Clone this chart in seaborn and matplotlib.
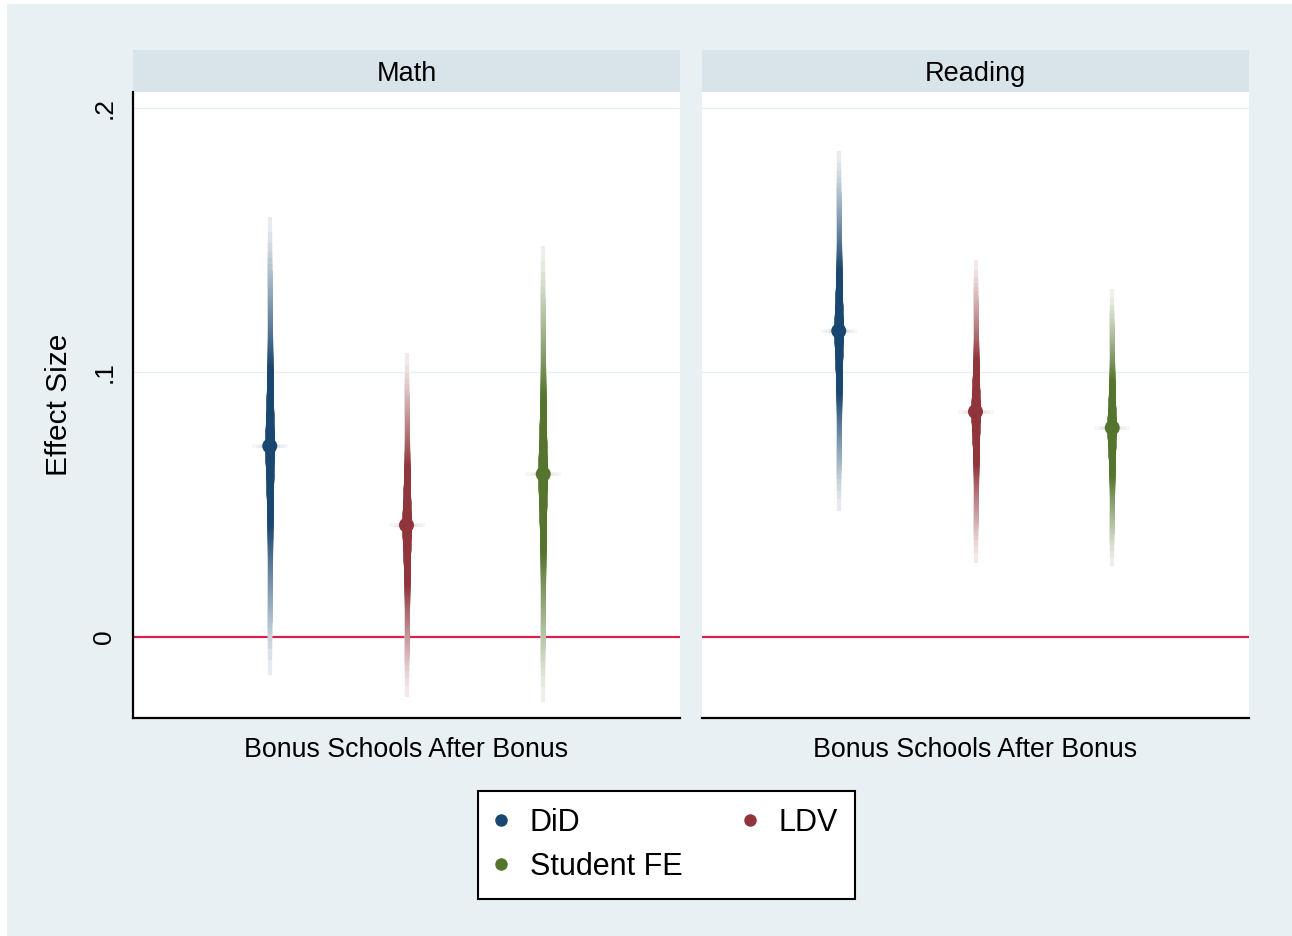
import numpy as np
import pandas as pd
import seaborn as sns
import matplotlib
matplotlib.use("Agg")
import matplotlib.pyplot as plt
from matplotlib.colors import to_rgb
from matplotlib.patches import Rectangle
from matplotlib.lines import Line2D
from statistics import NormalDist

# ---- data -------------------------------------------------------------
subjects = ["Math", "Reading"]
models = ["DiD", "LDV", "Student FE"]
category = "Bonus Schools After Bonus"

# point estimates per subject (order: DiD, LDV, Student FE)
est_math = [0.0722, 0.0423, 0.0616]
est_reading = [0.1157, 0.0852, 0.0791]

# outermost (99%) confidence bounds
lo_math = [-0.0143, -0.0227, -0.0246]
hi_math = [0.1587, 0.1073, 0.1478]
lo_reading = [0.0476, 0.0280, 0.0268]
hi_reading = [0.1838, 0.1425, 0.1315]

ytick_vals = [0, 0.1, 0.2]
ytick_labels = ["0", ".1", ".2"]

# ---- styling ----------------------------------------------------------
colors = {"DiD": "#1A476F", "LDV": "#90353B", "Student FE": "#55752F"}
offsets = {"DiD": -0.25, "LDV": 0.0, "Student FE": 0.25}
bg = "#E8F0F3"
strip_col = "#D9E4EA"
zero_col = "#DC1E4B"

rows = []
for subj, est, lo, hi in [("Math", est_math, lo_math, hi_math),
                          ("Reading", est_reading, lo_reading, hi_reading)]:
    for m, e, l, h in zip(models, est, lo, hi):
        rows.append(dict(subject=subj, model=m, est=e, lo=l, hi=h,
                         xpos=offsets[m]))
df = pd.DataFrame(rows)

sns.set_theme(style="white")
plt.rcParams["font.family"] = ["Liberation Sans", "DejaVu Sans"]
plt.rcParams["text.color"] = "black"

DPI = 100
W, H = 1292, 936
PX2PT = 72.0 / DPI
ZMAX = NormalDist().inv_cdf(0.995)
PANEL_PX = 547.0


def mix(c, k):
    r, g_, b = to_rgb(c)
    return (1 - k * (1 - r), 1 - k * (1 - g_), 1 - k * (1 - b))


def smooth_ci(data, **kws):
    """Stacked confidence intervals: wide and saturated near the estimate,
    thin and pale toward the outer levels."""
    ax = plt.gca()
    levels = np.linspace(0.5, 99, 160)[::-1]
    for _, r in data.iterrows():
        se = (r["hi"] - r["lo"]) / (2 * ZMAX)
        c = colors[r["model"]]
        # soft horizontal halo at the estimate
        for half_px, k, lw in [(18, 0.05, 4.0), (14, 0.09, 3.0), (10, 0.15, 2.5)]:
            ax.hlines(r["est"], r["xpos"] - half_px / PANEL_PX,
                      r["xpos"] + half_px / PANEL_PX,
                      color=mix(c, k), lw=lw * PX2PT, zorder=2)
        for L in levels:
            z = NormalDist().inv_cdf(0.5 + L / 200.0)
            half = z * se
            px = (5.3 + 4.2 * max(0.0, 1 - z / 0.8) ** 1.1
                  - 1.2 * np.clip((z - 0.9) / 1.7, 0, 1))
            if z <= 0.9:
                k = 1.0
            else:
                k = 0.11 + 0.89 * ((ZMAX - z) / (ZMAX - 0.9)) ** 1.25
            ax.vlines(r["xpos"], r["est"] - half, r["est"] + half,
                      color=mix(c, k), lw=px * PX2PT, zorder=3)


g = sns.FacetGrid(df, col="subject", col_order=subjects, sharey=True,
                  height=5, aspect=1)
g.figure.set_size_inches(W / DPI, H / DPI)
g.figure.set_dpi(DPI)
g.figure.set_facecolor("white")

g.map_dataframe(smooth_ci)
g.map_dataframe(sns.scatterplot, x="xpos", y="est", hue="model",
                hue_order=models, palette=colors, s=(15 * PX2PT) ** 2,
                edgecolor="none", linewidth=0, legend=False, zorder=5)

g.set_titles("")
fig = g.figure

# background panel for the whole graph region
fig.patches.append(Rectangle((7 / W, 0), 1, 1 - 4 / H, transform=fig.transFigure,
                             facecolor=bg, edgecolor="none", zorder=-10))

ax_bottom = 1 - 718 / H
ax_height = (718 - 92) / H
ax_width = PANEL_PX / W
lefts = [133 / W, 702 / W]
strip_h = 42 / (718 - 92)

for ax, subj, left in zip(g.axes.flat, subjects, lefts):
    ax.set_position([left, ax_bottom, ax_width, ax_height])
    ax.set_facecolor("white")
    ax.set_xlim(-0.5, 0.5)
    ax.set_ylim(-0.0306, 0.2060)
    for v in ytick_vals[1:]:
        ax.axhline(v, color="#E6EFF1", lw=1.3 * PX2PT, zorder=1)
    ax.axhline(0, color=zero_col, lw=2.2 * PX2PT, zorder=1)

    ax.set_xticks([0])
    ax.set_xticklabels([category], fontsize=19.3)
    ax.set_yticks(ytick_vals)
    ax.set_yticklabels(ytick_labels, rotation=90, va="center", fontsize=19)
    ax.tick_params(axis="both", direction="out", length=8, width=1.3,
                   color="black", labelcolor="black", pad=4)
    ax.tick_params(axis="x", pad=6)
    ax.set_xlabel("")
    for s in ["top", "right"]:
        ax.spines[s].set_visible(False)
    ax.spines["bottom"].set_color("black")
    ax.spines["bottom"].set_linewidth(1.6)
    ax.spines["left"].set_color("black")
    ax.spines["left"].set_linewidth(1.6)

    ax.add_patch(Rectangle((0, 1), 1, strip_h, transform=ax.transAxes,
                           facecolor=strip_col, edgecolor="none", clip_on=False))
    ax.text(0.5, 1 + strip_h / 2 - 3 / 626, subj, transform=ax.transAxes,
            ha="center", va="center", fontsize=19.5, color="black")

ax0, ax1 = g.axes.flat
ax0.set_ylabel("Effect Size", fontsize=21.5, color="black", labelpad=14)
ax1.set_ylabel("")
ax1.spines["left"].set_visible(False)
ax1.tick_params(axis="y", left=False, labelleft=False)

handles = [Line2D([], [], marker="o", ls="", color=colors[m], markersize=9,
                  markeredgewidth=0) for m in ["DiD", "Student FE", "LDV"]]
leg = fig.legend(handles=handles, labels=["DiD", "Student FE", "LDV"], ncol=2,
                 loc="center", bbox_to_anchor=(666.5 / W, 1 - 845 / H),
                 frameon=True, fancybox=False, edgecolor="black",
                 facecolor="white", framealpha=1, fontsize=22,
                 handlelength=0.4, handletextpad=0.75, columnspacing=2.0,
                 borderpad=0.55, labelspacing=0.45)
leg.get_frame().set_linewidth(1.5)
for t in leg.get_texts():
    t.set_color("black")

fig.savefig("out.png", dpi=DPI, facecolor="white")
